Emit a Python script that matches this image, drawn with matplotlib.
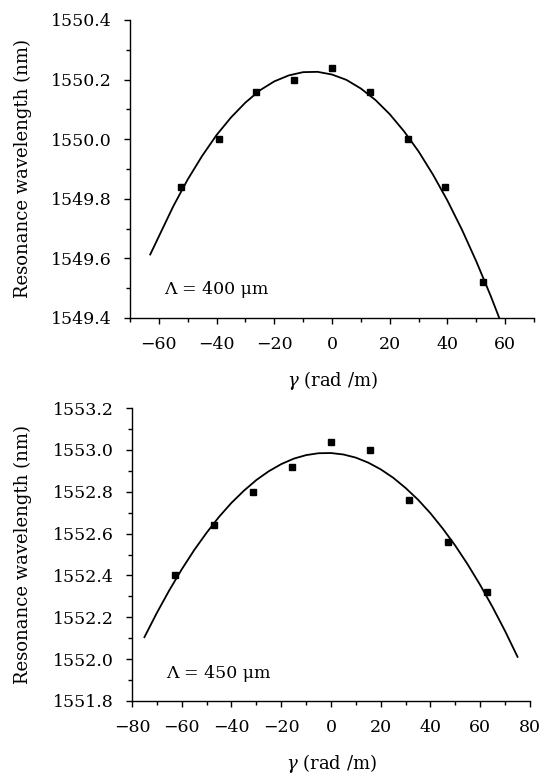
"""Resonance wavelength versus twist rate gamma for two grating periods."""

import numpy as np
import matplotlib
matplotlib.use("Agg")
import matplotlib.pyplot as plt
from matplotlib.ticker import MultipleLocator

# Lambda = 400 um: measured points
gamma_400 = [-52.4, -39.3, -26.2, -13.1, 0.0, 13.1, 26.2, 39.3, 52.4]
wl_400 = [1549.84, 1550.00, 1550.16, 1550.20, 1550.24, 1550.16, 1550.00, 1549.84, 1549.52]
# fitted curve
fit_gamma_400 = [-63, -55, -50, -45, -40, -35, -30, -25, -20, -15, -10, -5, 0,
                 5, 10, 15, 20, 25, 30, 35, 40, 45, 50, 55, 58]
fit_wl_400 = [1549.613, 1549.775, 1549.865, 1549.944, 1550.014, 1550.073, 1550.123,
              1550.164, 1550.194, 1550.214, 1550.225, 1550.226, 1550.217, 1550.199,
              1550.170, 1550.132, 1550.084, 1550.026, 1549.959, 1549.881, 1549.794,
              1549.697, 1549.590, 1549.474, 1549.399]

# Lambda = 450 um: measured points
gamma_450 = [-62.8, -47.1, -31.4, -15.7, 0.0, 15.7, 31.4, 47.1, 62.8]
wl_450 = [1552.40, 1552.64, 1552.80, 1552.92, 1553.04, 1553.00, 1552.76, 1552.56, 1552.32]
fit_gamma_450 = [-75, -70, -65, -60, -55, -50, -45, -40, -35, -30, -25, -20, -15, -10,
                 -5, 0, 5, 10, 15, 20, 25, 30, 35, 40, 45, 50, 55, 60, 65, 70, 75]
fit_wl_450 = [1552.105, 1552.221, 1552.329, 1552.429, 1552.521, 1552.604, 1552.680,
              1552.747, 1552.805, 1552.856, 1552.898, 1552.932, 1552.958, 1552.975,
              1552.984, 1552.985, 1552.978, 1552.963, 1552.939, 1552.907, 1552.867,
              1552.818, 1552.762, 1552.697, 1552.623, 1552.542, 1552.452, 1552.354,
              1552.248, 1552.134, 1552.011]

plt.rcParams["font.family"] = ["DejaVu Serif"]
plt.rcParams["mathtext.fontset"] = "dejavuserif"
plt.rcParams["font.size"] = 12.5


def style_axis(ax, xlim, ylim, label_text, yfmt):
    ax.set_xlim(*xlim)
    ax.set_ylim(*ylim)
    ax.spines["top"].set_visible(False)
    ax.spines["right"].set_visible(False)
    for s in ("left", "bottom"):
        ax.spines[s].set_linewidth(1.0)
    ax.xaxis.set_major_locator(MultipleLocator(20))
    ax.xaxis.set_minor_locator(MultipleLocator(10))
    ax.yaxis.set_major_locator(MultipleLocator(0.2))
    ax.yaxis.set_minor_locator(MultipleLocator(0.1))
    ax.yaxis.set_major_formatter(yfmt)
    ax.tick_params(which="major", direction="out", length=4, width=1, pad=9)
    ax.tick_params(which="minor", direction="out", length=3, width=1)
    ax.set_xlabel(r"$\gamma$ (rad /m)", fontsize=13)
    ax.set_ylabel("Resonance wavelength (nm)", fontsize=13)
    ax.text(0.085, 0.095, label_text, transform=ax.transAxes, va="center", ha="left")


fmt = matplotlib.ticker.FuncFormatter(lambda v, p: f"{v:.1f}".replace("-", "\u2212"))

fig = plt.figure(figsize=(5.44, 7.75), dpi=100)

ax1 = fig.add_axes([0.239, 0.5897, 0.7426, 0.3845])
ax1.plot(fit_gamma_400, fit_wl_400, color="black", lw=1.3)
ax1.plot(gamma_400, wl_400, "s", color="black", ms=4.5)
style_axis(ax1, (-70, 70), (1549.4, 1550.4), "\u039b = 400 \u03bcm", fmt)
ax1.xaxis.set_label_coords(0.5, -0.172)
ax1.yaxis.set_label_coords(-0.243, 0.5)

ax2 = fig.add_axes([0.2426, 0.0955, 0.7316, 0.378])
ax2.plot(fit_gamma_450, fit_wl_450, color="black", lw=1.3)
ax2.plot(gamma_450, wl_450, "s", color="black", ms=4.5)
style_axis(ax2, (-80, 80), (1551.8, 1553.2), "\u039b = 450 \u03bcm", fmt)
ax2.xaxis.set_label_coords(0.5, -0.175)
ax2.yaxis.set_label_coords(-0.251, 0.5)

fig.savefig("out.png", dpi=100)
